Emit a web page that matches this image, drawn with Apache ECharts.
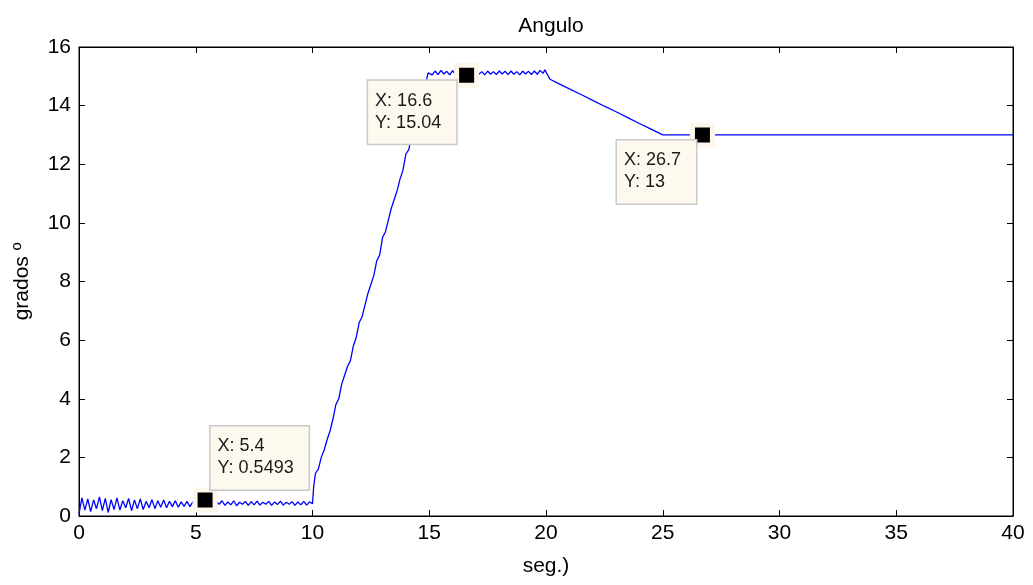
<!DOCTYPE html>
<html>
<head>
<meta charset="utf-8">
<script src="https://cdn.jsdelivr.net/npm/echarts@6/dist/echarts.min.js"></script>
<style>html,body{margin:0;padding:0;background:#fff;}#c{width:1033px;height:585px;}</style>
</head>
<body>
<div id="c"></div>
<script>
// time (s)
var tiempo = [
  0.000,0.125,0.250,0.375,0.500,0.625,0.750,0.875,1.000,1.125,1.250,1.375,1.500,1.625,1.750,1.875,
  2.000,2.125,2.250,2.375,2.500,2.625,2.750,2.875,3.000,3.125,3.250,3.375,3.500,3.625,3.750,3.875,
  4.000,4.125,4.250,4.375,4.500,4.625,4.750,4.875,5.000,5.125,5.250,5.400,5.500,5.625,5.750,5.875,
  6.000,6.125,6.250,6.375,6.500,6.625,6.750,6.875,7.000,7.125,7.250,7.375,7.500,7.625,7.750,7.875,
  8.000,8.125,8.250,8.375,8.500,8.625,8.750,8.875,9.000,9.125,9.250,9.375,9.500,9.625,9.750,9.875,
  10.000,10.050,10.125,10.250,10.375,10.500,10.625,10.750,10.875,11.000,11.125,11.250,11.375,11.500,11.625,11.750,11.875,
  12.000,12.125,12.250,12.375,12.500,12.625,12.750,12.875,13.000,13.125,13.250,13.375,13.500,13.625,13.750,13.875,
  14.000,14.125,14.250,14.375,14.500,14.625,14.750,14.875,14.950,
  15.000,15.125,15.250,15.375,15.500,15.625,15.750,15.875,16.000,16.125,16.250,16.375,16.500,16.600,16.750,16.875,
  17.000,17.125,17.250,17.375,17.500,17.625,17.750,17.875,18.000,18.125,18.250,18.375,18.500,18.625,18.750,18.875,
  19.000,19.125,19.250,19.375,19.500,19.625,19.750,19.875,19.950,20.170,
  20.500,21.000,21.500,22.000,22.500,23.000,23.500,24.000,24.500,25.000,26.700,30.000,35.000,40.000
];
// angle (grados)
var angulo = [
  0.08,0.62,0.20,0.58,0.15,0.55,0.25,0.65,0.18,0.60,0.12,0.56,0.22,0.62,0.20,0.52,
  0.28,0.60,0.18,0.55,0.25,0.58,0.22,0.50,0.28,0.56,0.25,0.52,0.30,0.55,0.28,0.50,
  0.32,0.52,0.30,0.48,0.33,0.50,0.32,0.48,0.36,0.50,0.38,0.5493,0.36,0.50,0.34,0.50,
  0.40,0.52,0.36,0.48,0.38,0.52,0.35,0.47,0.40,0.50,0.36,0.49,0.38,0.51,0.37,0.47,
  0.40,0.50,0.36,0.48,0.39,0.51,0.37,0.47,0.40,0.49,0.36,0.48,0.38,0.50,0.37,0.48,
  0.42,1.00,1.45,1.60,2.00,2.25,2.60,2.90,3.30,3.80,4.00,4.50,4.80,5.10,5.30,5.80,6.10,
  6.60,6.80,7.20,7.60,7.90,8.20,8.70,8.90,9.50,9.70,10.10,10.50,10.80,11.10,11.50,11.80,
  12.35,12.50,13.00,13.30,13.70,14.00,14.40,14.85,15.12,
  15.15,15.05,15.18,15.06,15.20,15.08,15.17,15.05,15.19,15.07,15.16,15.06,15.15,15.04,15.15,15.05,
  15.17,15.07,15.16,15.05,15.18,15.07,15.16,15.06,15.18,15.08,15.17,15.06,15.18,15.07,15.16,15.05,
  15.18,15.08,15.17,15.06,15.18,15.07,15.20,15.10,15.22,14.90,
  14.77,14.57,14.38,14.18,13.98,13.79,13.59,13.39,13.20,13.00,13.00,13.00,13.00,13.00
];
// data tips
var tipX = [5.4, 16.6, 26.7];
var tipY = [0.5493, 15.04, 13];
var tipLabel = ['X: 5.4\nY: 0.5493', 'X: 16.6\nY: 15.04', 'X: 26.7\nY: 13'];

var xTicks = [0, 5, 10, 15, 20, 25, 30, 35, 40];
var yTicks = [0, 2, 4, 6, 8, 10, 12, 14, 16];

var FONT = 'Liberation Sans, Arial, sans-serif';
var serie = tiempo.map(function (t, i) { return [t, angulo[i]]; });

var tipPos = [
  { position: [18, 2], verticalAlign: 'bottom' },
  { position: [-86, 18], verticalAlign: 'top' },
  { position: [-73, 18], verticalAlign: 'top' }
];
var tips = tipX.map(function (x, i) {
  return {
    coord: [x, tipY[i]],
    label: {
      show: true,
      formatter: tipLabel[i],
      position: tipPos[i].position,
      align: 'left',
      verticalAlign: tipPos[i].verticalAlign
    }
  };
});

var axisCommon = {
  type: 'value',
  axisLine: { show: true, onZero: false, lineStyle: { color: '#000', width: 1 } },
  axisTick: { show: true, inside: true, length: 6, lineStyle: { color: '#000', width: 1 } },
  splitLine: { show: false }
};

var chart = echarts.init(document.getElementById('c'), null, { renderer: 'canvas' });
chart.setOption({
  animation: false,
  backgroundColor: '#fff',
  title: {
    text: 'Angulo', left: 546, top: 11, textAlign: 'center',
    textStyle: { fontFamily: FONT, fontSize: 21, fontWeight: 'normal', color: '#000' }
  },
  grid: { left: 79, right: 20, top: 47, bottom: 69, show: true, borderColor: '#000', borderWidth: 1 },
  xAxis: [
    Object.assign({}, axisCommon, {
      min: xTicks[0], max: xTicks[xTicks.length - 1], interval: 5, position: 'bottom',
      name: 'seg.)', nameLocation: 'middle', nameGap: 40,
      nameTextStyle: { fontFamily: FONT, fontSize: 21, color: '#000' },
      axisLabel: { fontFamily: FONT, fontSize: 21, color: '#000', margin: 7 }
    }),
    Object.assign({}, axisCommon, {
      min: xTicks[0], max: xTicks[xTicks.length - 1], interval: 5, position: 'top',
      axisLabel: { show: false }
    })
  ],
  yAxis: [
    Object.assign({}, axisCommon, {
      min: yTicks[0], max: yTicks[yTicks.length - 1], interval: 2, position: 'left',
      name: 'grados º', nameLocation: 'middle', nameGap: 46,
      nameTextStyle: { fontFamily: FONT, fontSize: 21, color: '#000' },
      axisLabel: { fontFamily: FONT, fontSize: 21, color: '#000', margin: 8 }
    }),
    Object.assign({}, axisCommon, {
      min: yTicks[0], max: yTicks[yTicks.length - 1], interval: 2, position: 'right',
      axisLabel: { show: false }
    })
  ],
  series: [{
    type: 'line',
    data: serie,
    xAxisIndex: 0, yAxisIndex: 0,
    showSymbol: false,
    symbol: 'none',
    smooth: false,
    lineStyle: { color: '#0000ff', width: 1.3 },
    markPoint: {
      symbol: 'rect',
      symbolSize: 20,
      itemStyle: { color: '#000', borderColor: '#fcf7ea', borderWidth: 5 },
      label: {
        fontFamily: FONT, fontSize: 18, color: '#1a1a1a', lineHeight: 22,
        backgroundColor: '#fdf9ee', borderColor: '#c9c9c9', borderWidth: 1.5,
        padding: [9, 15, 10, 7]
      },
      data: tips
    }
  }]
});
</script>
</body>
</html>
